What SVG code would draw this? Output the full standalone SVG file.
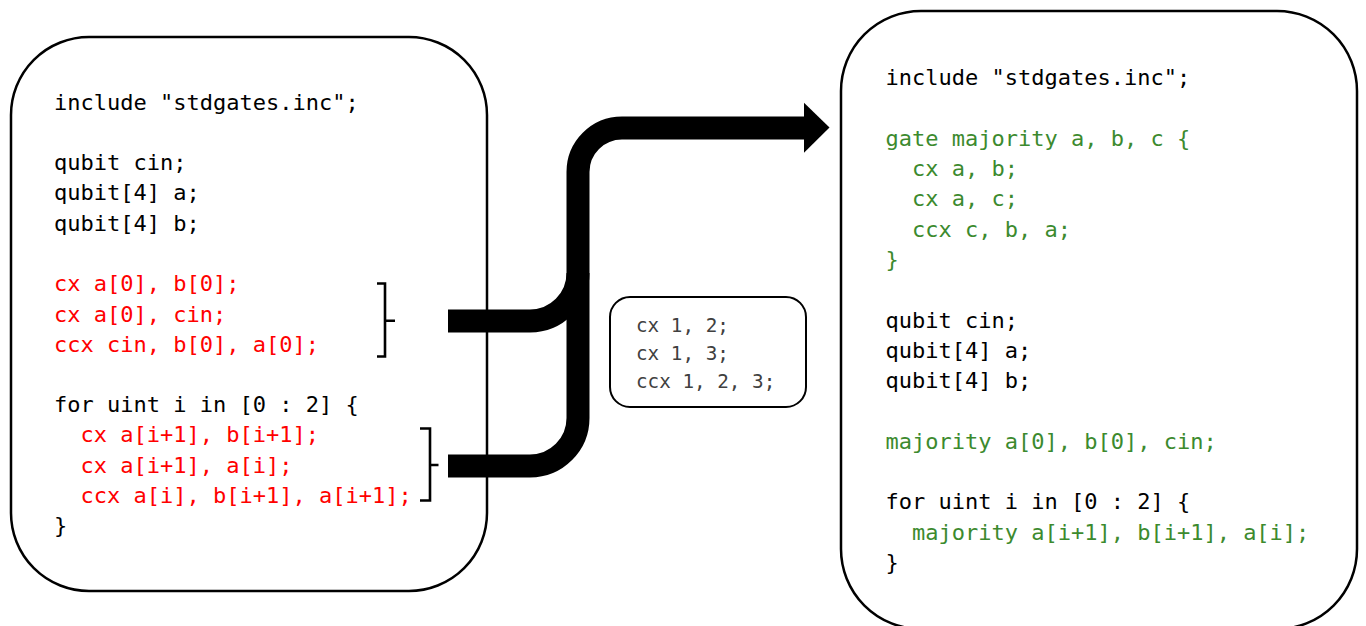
<svg xmlns="http://www.w3.org/2000/svg" width="1366" height="626" viewBox="0 0 1366 626">
  <style>
    .box { fill: #ffffff; stroke: #000000; stroke-width: 2.5; }
    .code { font-family: "DejaVu Sans Mono", "Liberation Mono", monospace; font-size: 22px; fill: #000000; }
    .red { fill: #ff0000; }
    .green { fill: #3c8a2e; }
    .small { font-family: "DejaVu Sans Mono", "Liberation Mono", monospace; font-size: 19.3px; fill: #404040; }
    .brace { fill: none; stroke: #000000; stroke-width: 2.6; }
    .flow { fill: none; stroke: #000000; stroke-width: 23; }
  </style>

  <g id="source">
    <rect class="box" x="11" y="37" width="476" height="554" rx="78" ry="78"/>
    <text class="code" x="54" y="109.5">include "stdgates.inc";</text>
    <text class="code" x="54" y="170">qubit cin;</text>
    <text class="code" x="54" y="200.3">qubit[4] a;</text>
    <text class="code" x="54" y="230.5">qubit[4] b;</text>
    <text class="code red" x="54" y="291.3">cx a[0], b[0];</text>
    <text class="code red" x="54" y="321.5">cx a[0], cin;</text>
    <text class="code red" x="54" y="351.7">ccx cin, b[0], a[0];</text>
    <text class="code" x="54" y="412">for uint i in [0 : 2] {</text>
    <text class="code red" x="80.5" y="442.3">cx a[i+1], b[i+1];</text>
    <text class="code red" x="80.5" y="472.5">cx a[i+1], a[i];</text>
    <text class="code red" x="80.5" y="502.7">ccx a[i], b[i+1], a[i+1];</text>
    <text class="code" x="54" y="533">}</text>
  </g>

  <g id="braces">
    <path class="brace" d="M377,283.5 H385 V356.5 H377 M385,320.7 H395"/>
    <path class="brace" d="M420,428.5 H430 V500.5 H420 M430,465 H438.5"/>
  </g>

  <g id="connectors">
    <path class="flow" d="M448,466 H530 A48,48 0 0 0 578,418 V172 A44,44 0 0 1 622,128 H806"/>
    <path class="flow" d="M448,321 H530 A48,48 0 0 0 578,273"/>
    <polygon points="804,102.7 829.5,127.5 804,152.7" fill="#000000"/>
  </g>

  <g id="pattern">
    <rect x="610" y="297" width="196" height="110" rx="20" ry="20" fill="#ffffff" stroke="#000000" stroke-width="2"/>
    <text class="small" x="636" y="331.7">cx 1, 2;</text>
    <text class="small" x="636" y="359.7">cx 1, 3;</text>
    <text class="small" x="636" y="387.7">ccx 1, 2, 3;</text>
  </g>

  <g id="result">
    <rect class="box" x="841" y="11" width="516" height="618" rx="80" ry="80"/>
    <text class="code" x="885.5" y="85">include "stdgates.inc";</text>
    <text class="code green" x="885.5" y="145.6">gate majority a, b, c {</text>
    <text class="code green" x="912" y="176">cx a, b;</text>
    <text class="code green" x="912" y="206.3">cx a, c;</text>
    <text class="code green" x="912" y="236.5">ccx c, b, a;</text>
    <text class="code green" x="885.5" y="267">}</text>
    <text class="code" x="885.5" y="327.5">qubit cin;</text>
    <text class="code" x="885.5" y="357.8">qubit[4] a;</text>
    <text class="code" x="885.5" y="388">qubit[4] b;</text>
    <text class="code green" x="885.5" y="448.7">majority a[0], b[0], cin;</text>
    <text class="code" x="885.5" y="509">for uint i in [0 : 2] {</text>
    <text class="code green" x="912" y="539.5">majority a[i+1], b[i+1], a[i];</text>
    <text class="code" x="885.5" y="570">}</text>
  </g>
</svg>
